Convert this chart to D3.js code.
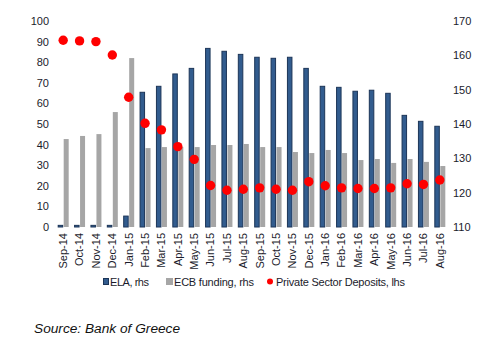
<!DOCTYPE html>
<html><head><meta charset="utf-8">
<script src="https://cdn.jsdelivr.net/npm/d3@7"></script>
<style>body{margin:0;background:#fff}svg{display:block;font-family:"Liberation Sans",Arial,sans-serif}</style>
</head><body><svg id="c" width="487" height="346"></svg>
<script>
const categories=["Sep-14","Oct-14","Nov-14","Dec-14","Jan-15","Feb-15","Mar-15","Apr-15","May-15","Jun-15","Jul-15","Aug-15","Sep-15","Oct-15","Nov-15","Dec-15","Jan-16","Feb-16","Mar-16","Apr-16","May-16","Jun-16","Jul-16","Aug-16"];
const ela=[0.8,0.8,0.8,0.8,5.3,65.4,68.3,74.3,77.0,86.7,85.3,83.8,82.4,81.9,82.4,77.0,68.3,67.8,65.9,66.4,64.9,54.2,51.3,48.9];
const ecb=[42.7,44.2,45.1,55.8,82.0,38.3,38.8,38.9,38.8,39.8,39.8,40.3,38.8,38.8,36.4,35.9,37.4,35.9,32.5,33.0,31.1,33.0,31.6,29.6];
const deposits=[164.4,164.2,164.0,160.1,147.8,140.2,138.3,133.4,129.7,122.1,120.7,121.0,121.4,121.0,120.7,123.2,122.0,121.4,121.2,121.2,121.4,122.6,122.4,123.7];
const leftTicks=[0,10,20,30,40,50,60,70,80,90,100];
const rightTicks=[110,120,130,140,150,160,170];
const legendLabels=["ELA, rhs","ECB funding, rhs","Private Sector Deposits, lhs"];
const sourceText="Source: Bank of Greece";

const svg=d3.select("#c");
const x=d3.scaleBand().domain(categories).range([55,448]).paddingInner(0);
const yL=d3.scaleLinear().domain([0,100]).range([227,21]);
const yR=d3.scaleLinear().domain([110,170]).range([227,21]);
const bw=5;
const txtCol="#1b1b2b";

// left axis
const gL=svg.append("g").attr("transform","translate(49,0)").call(d3.axisLeft(yL).tickValues(leftTicks).tickSize(0).tickPadding(0));
gL.select(".domain").remove();
gL.selectAll("text").attr("font-size",11).attr("fill",txtCol).attr("font-family","Liberation Sans, Arial");
// right axis
const gR=svg.append("g").attr("transform","translate(453,0)").call(d3.axisRight(yR).tickValues(rightTicks).tickSize(0).tickPadding(0));
gR.select(".domain").remove();
gR.selectAll("text").attr("font-size",11).attr("fill",txtCol).attr("font-family","Liberation Sans, Arial");

// bars
svg.append("g").selectAll("rect").data(categories).join("rect")
 .attr("x",d=>x(d)+x.bandwidth()/2+0.5).attr("width",bw)
 .attr("y",(d,i)=>yL(ecb[i])).attr("height",(d,i)=>yL(0)-yL(ecb[i])).attr("fill","#a6a6a6");
svg.append("g").selectAll("rect").data(categories).join("rect")
 .attr("x",d=>x(d)+x.bandwidth()/2-bw).attr("width",bw-0.5)
 .attr("y",(d,i)=>yL(ela[i])).attr("height",(d,i)=>yL(0)-yL(ela[i]))
 .attr("fill","#325c8e").attr("stroke","#1c3558").attr("stroke-width",1);

// dots
svg.append("g").selectAll("circle").data(categories).join("circle")
 .attr("cx",d=>x(d)+x.bandwidth()/2).attr("cy",(d,i)=>yR(deposits[i])).attr("r",4.7).attr("fill","#ff0000");

// x labels
const gX=svg.append("g").attr("transform","translate(0,227)").call(d3.axisBottom(x).tickSize(0).tickPadding(0));
gX.select(".domain").remove();
gX.selectAll("text").attr("font-size",11).attr("fill",txtCol).attr("font-family","Liberation Sans, Arial")
 .attr("transform","rotate(-90)").attr("text-anchor","end").attr("x",-6).attr("y",0).attr("dy","0.35em");

// legend
const lg=svg.append("g").attr("font-size",11).attr("fill",txtCol);
lg.append("rect").attr("x",103.5).attr("y",278.5).attr("width",5).attr("height",6).attr("fill","#325c8e").attr("stroke","#1c3558");
lg.append("text").attr("x",110).attr("y",286).text(legendLabels[0]).attr("fill",txtCol).attr("textLength",39);
lg.append("rect").attr("x",166).attr("y",278).attr("width",7).attr("height",7).attr("fill","#a6a6a6");
lg.append("text").attr("x",174).attr("y",286).text(legendLabels[1]).attr("fill",txtCol).attr("textLength",80);
lg.append("circle").attr("cx",270).attr("cy",281.5).attr("r",3).attr("fill","#ff0000");
lg.append("text").attr("x",276).attr("y",286).text(legendLabels[2]).attr("fill",txtCol).attr("textLength",129);

svg.append("text").attr("x",34).attr("y",333).attr("font-size",13.7).attr("font-style","italic").attr("fill","#111").text(sourceText);
</script></body></html>
